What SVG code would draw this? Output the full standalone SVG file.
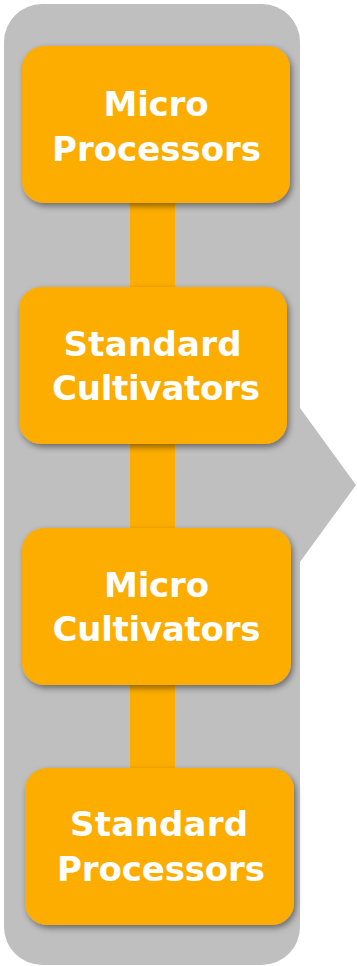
<svg xmlns="http://www.w3.org/2000/svg" width="357" height="966" viewBox="0 0 357 966">
  <defs>
    <filter id="shadow" x="-10%" y="-10%" width="125%" height="130%">
      <feDropShadow dx="2" dy="3" stdDeviation="3" flood-color="#000" flood-opacity="0.45"/>
    </filter>
  </defs>
  <style>
    .panel { fill: #bfbfbf; }
    .box { fill: #fdad00; filter: url(#shadow); }
    .bar { fill: #fdad00; }
    .label { fill: #ffffff; font-family: "DejaVu Sans", "Liberation Sans", sans-serif; font-weight: 700; font-size: 34px; text-anchor: middle; }
  </style>

  <!-- grey panel with arrow point -->
  <path class="panel" d="M42,4 H262 A38,38 0 0 1 300,42 V408 L356,485 L300,562 V927 A38,38 0 0 1 262,965 H42 A38,38 0 0 1 4,927 V42 A38,38 0 0 1 42,4 Z"/>

  <!-- connectors -->
  <g id="connectors">
    <rect class="bar" x="130" y="195" width="45" height="100"/>
    <rect class="bar" x="130" y="435" width="45" height="100"/>
    <rect class="bar" x="130" y="676" width="45" height="100"/>
  </g>

  <g id="micro-processors">
    <rect class="box" x="22" y="46" width="268" height="157" rx="22"/>
    <text class="label" x="156" y="116" textLength="105">Micro</text>
    <text class="label" x="156.5" y="161" textLength="209">Processors</text>
  </g>

  <g id="standard-cultivators">
    <rect class="box" x="19" y="287" width="268" height="157" rx="22"/>
    <text class="label" x="152.5" y="356" textLength="178">Standard</text>
    <text class="label" x="156" y="400" textLength="208">Cultivators</text>
  </g>

  <g id="micro-cultivators">
    <rect class="box" x="22" y="528" width="269" height="157" rx="22"/>
    <text class="label" x="156.5" y="597" textLength="105">Micro</text>
    <text class="label" x="156.5" y="641" textLength="208">Cultivators</text>
  </g>

  <g id="standard-processors">
    <rect class="box" x="25" y="768" width="269" height="157" rx="22"/>
    <text class="label" x="159" y="836" textLength="178">Standard</text>
    <text class="label" x="161" y="881" textLength="208">Processors</text>
  </g>
</svg>
